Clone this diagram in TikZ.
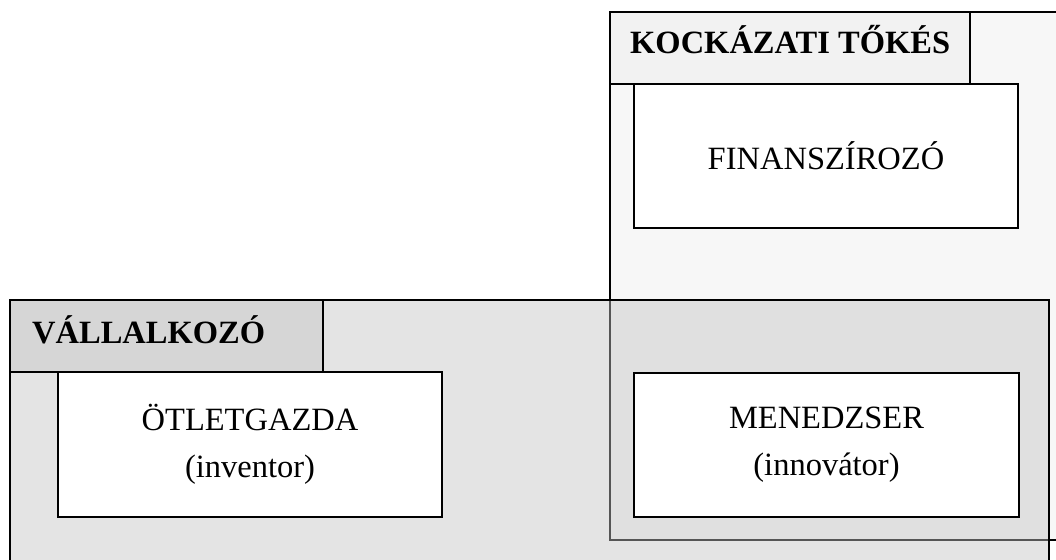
\documentclass[tikz,border=0pt]{standalone}
\usepackage{fontspec}
\setmainfont{Liberation Serif}
\definecolor{kfill}{HTML}{F7F7F7}
\definecolor{ktitle}{HTML}{F2F2F2}
\definecolor{vfill}{HTML}{E4E4E4}
\definecolor{vtitle}{HTML}{D6D6D6}
\definecolor{ovfill}{HTML}{E0E0E0}
\definecolor{ovline}{HTML}{555555}
\tikzset{
  region/.style={draw=black, line width=1.5pt, anchor=north west, inner sep=0pt, outer sep=0pt},
  titlebox/.style={draw=black, line width=1.5pt, anchor=north west, inner sep=0pt, outer sep=0pt},
  rolebox/.style={draw=black, line width=1.5pt, fill=white, anchor=north west, inner sep=0pt, outer sep=0pt,
    align=center, font=\fontsize{32.5}{47}\selectfont},
  titletext/.style={anchor=base west, inner sep=0pt, font=\fontsize{32.5}{36}\selectfont\bfseries},
}
\begin{document}
\begin{tikzpicture}[x=1pt,y=-1pt]
\useasboundingbox (0,0) rectangle (1056,559);
\clip (0,0) rectangle (1056,559);
% Kockazati tokes region
\node[region, fill=kfill, minimum width=460pt, minimum height=528pt] (ktokes) at (610,12) {};
% Vallalkozo region (fill only first)
\node[anchor=north west, inner sep=0pt, outer sep=0pt, fill=vfill, minimum width=1039pt, minimum height=280pt] (vall) at (10,300) {};
% overlap
\node[anchor=north west, inner sep=0pt, outer sep=0pt, fill=ovfill, draw=ovline, line width=1.5pt, minimum width=439pt, minimum height=240pt] (overlap) at (610,300) {};
% Vallalkozo border on top
\draw[line width=1.5pt] (vall.south west) -- (vall.north west) -- (vall.north east) -- (vall.south east);
% title boxes
\node[titlebox, fill=ktitle, minimum width=360pt, minimum height=72pt] (ktitle) at (610,12) {};
\node[titletext] (ktext) at (630,54) {KOCKÁZATI TŐKÉS};
\node[titlebox, fill=vtitle, minimum width=313pt, minimum height=72pt] (vtitle) at (10,300) {};
\node[titletext] (vtext) at (32,343) {VÁLLALKOZÓ};
% role boxes
\node[rolebox, minimum width=384pt, minimum height=144pt] (fin) at (634,84) {FINANSZÍROZÓ};
\node[rolebox, minimum width=384pt, minimum height=145pt] (otlet) at (58,372) {ÖTLETGAZDA\\(inventor)};
\node[rolebox, minimum width=385pt, minimum height=144pt] (men) at (634,373) {MENEDZSER\\(innovátor)};
\end{tikzpicture}
\end{document}
